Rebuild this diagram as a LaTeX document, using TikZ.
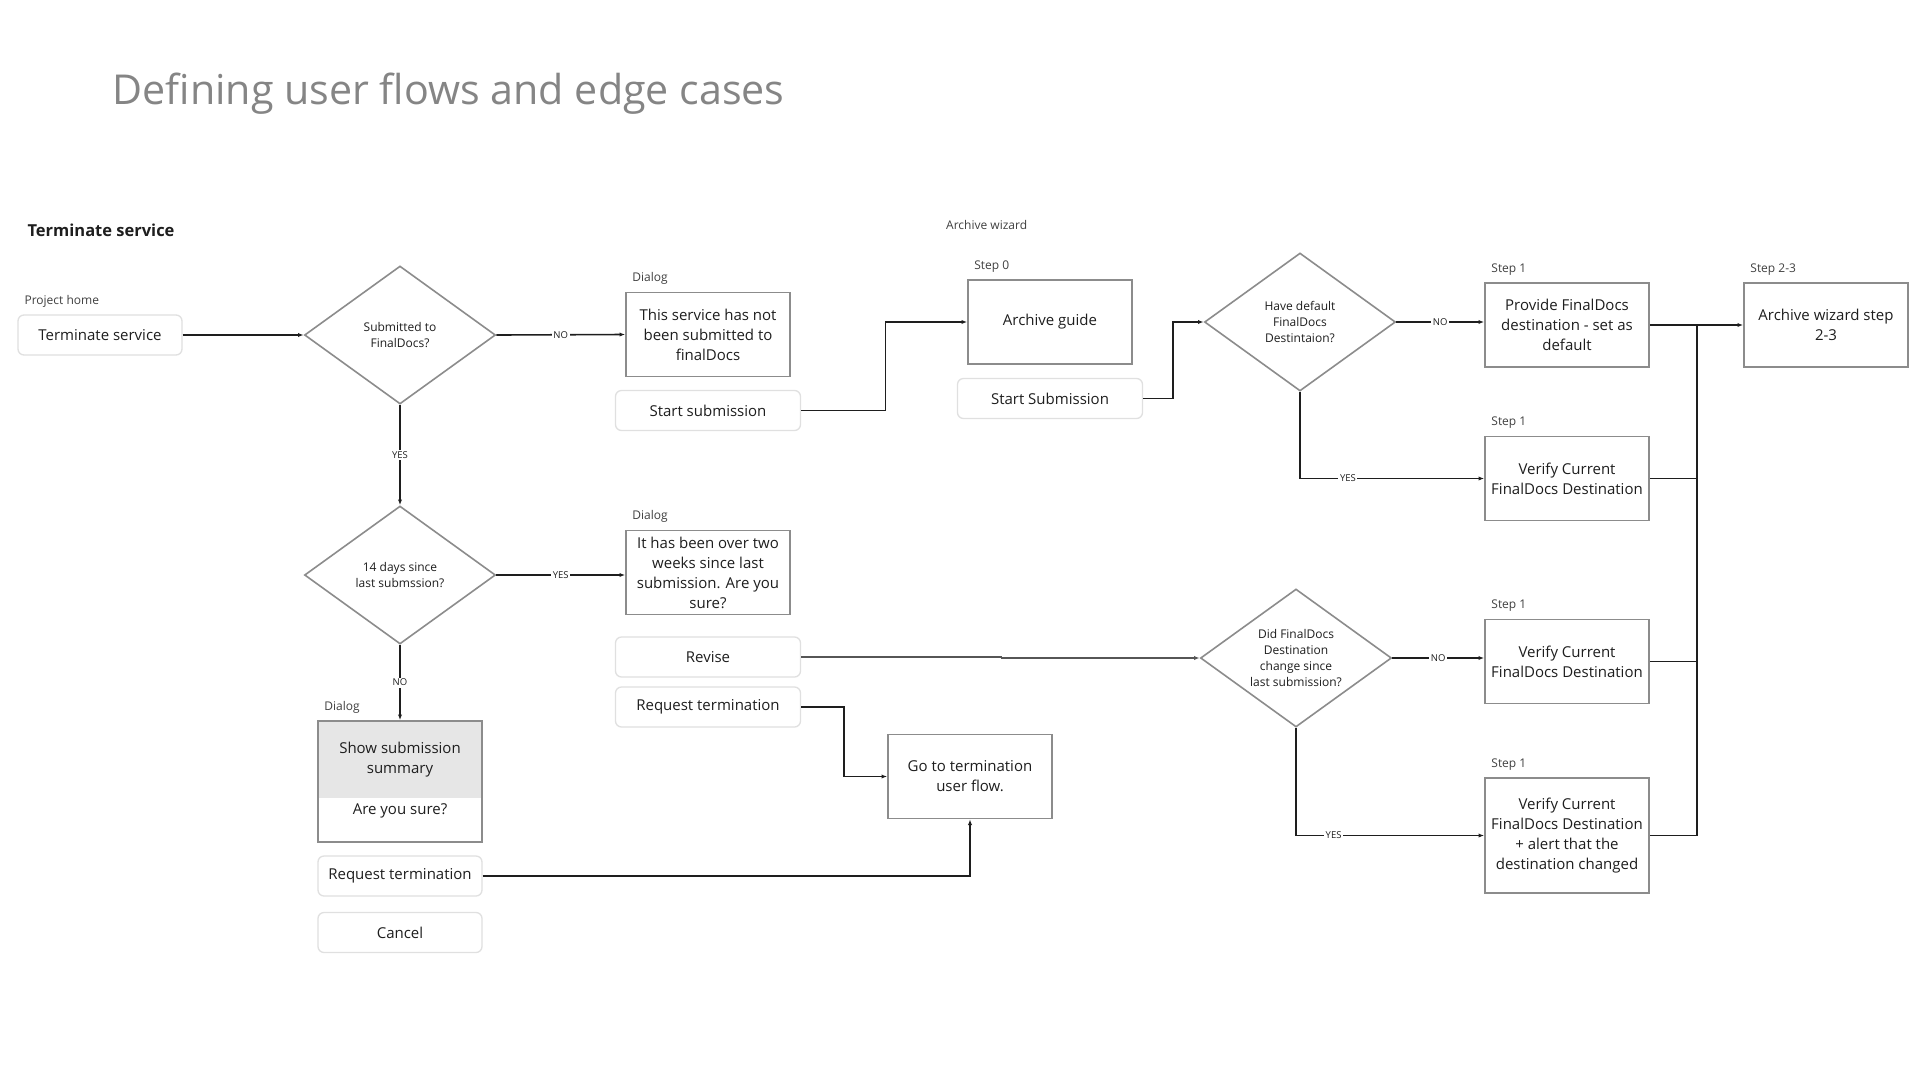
\documentclass[tikz,border=0pt]{standalone}
\usepackage{fontspec}
\setmainfont{Open Sans}
\usetikzlibrary{arrows.meta, positioning, shapes.geometric, calc}
\definecolor{edge}{HTML}{8C8C8C}
\definecolor{btnline}{HTML}{E0E0E0}
\definecolor{ink}{HTML}{1E1E1E}
\definecolor{dlgfill}{HTML}{E6E6E6}
\definecolor{ttlgray}{HTML}{858585}
\tikzset{
  blk/.style ={rectangle, draw=edge, line width=1.6pt, align=center, inner sep=4pt, text=ink, font=\fontsize{15}{20}\selectfont},
  btn/.style ={rectangle, rounded corners=6pt, draw=btnline, line width=1.3pt, align=center, text=ink, font=\fontsize{15}{20}\selectfont, minimum width=185pt, minimum height=40pt},
  dec/.style ={diamond, draw=edge, line width=1.6pt, aspect=1.38, align=center, inner sep=0pt, text=ink, font=\fontsize{12}{16}\selectfont, minimum width=191pt, minimum height=138pt},
  tag/.style ={inner sep=1pt, text=ink!85, font=\fontsize{12}{14}\selectfont},
  steplbl/.style={tag, anchor=south west, xshift=6pt, yshift=6pt},
  yn/.style  ={fill=white, inner sep=1.5pt, text=ink, font=\fontsize{9.5}{11}\selectfont},
  fl/.style  ={-{Latex[length=2mm]}, line width=1.6pt, draw=ink},
  flt/.style ={-{Latex[length=2mm]}, line width=1.1pt, draw=ink},
  ln/.style  ={line width=1.6pt, draw=ink},
}

\begin{document}
\begin{tikzpicture}[x=1pt, y=-1pt,
    box/.style={blk, minimum width=164pt, minimum height=84pt},
    txt/.style={align=center, inner sep=0pt, text=ink, font=\fontsize{15}{20}\selectfont}
]
\useasboundingbox (0,0) rectangle (1920,1080);
\fill[white] (0,0) rectangle (1920,1080);

% titles
\node[anchor=west, text=ttlgray, font=\fontsize{41.2}{46}\selectfont] (title) at (109,94) {Defining user flows and edge cases};
\node[anchor=west, text=ink, font=\fontsize{16.5}{20}\selectfont\bfseries] (hdr) at (24,230) {Terminate service};
\node[tag, anchor=west] (wizlbl) at (945,225) {Archive wizard};

% left column
\node[btn, minimum width=164pt, label={[steplbl]north west:Project home}] (term) at (100,335) {Terminate service};
\node[dec] (dsub) at (400,335) {Submitted to\\FinalDocs?};
\node[dec] (ddays) at (400,575) {14 days since\\last submssion?};
\node[box, minimum height=121pt, label={[steplbl]north west:Dialog},
      path picture={\fill[dlgfill] (path picture bounding box.north west) rectangle ($(path picture bounding box.north east)+(0,77)$);}] (summary) at (400,781.5) {};
\node[txt] (sumtxt) at ($(summary.north)+(0,39)$) {Show submission\\summary};
\node[txt] (sumask) at ($(summary.north)+(0,91)$) {Are you sure?};
\node[btn, minimum width=164pt] (reqbot) at (400,876) {Request termination};
\node[btn, minimum width=164pt] (cancel) at (400,932.5) {Cancel};

% dialogs
\node[box, label={[steplbl]north west:Dialog}] (dlgnot) at (708,334.5) {This service has not\\been submitted to\\finalDocs};
\node[btn] (startsub) at (708,410.5) {Start submission};
\node[box, label={[steplbl]north west:Dialog}] (dlgtwo) at (708,572.5) {It has been over two\\weeks since last\\submission. Are you\\sure?};
\node[btn] (revise) at (708,657) {Revise};
\node[btn] (reqtop) at (708,707) {Request termination};
\node[box] (goterm) at (970,776.5) {Go to termination\\user flow.};

% archive wizard
\node[box, label={[steplbl]north west:Step 0}] (guide) at (1050,322) {Archive guide};
\node[btn] (startarc) at (1050,398.5) {Start Submission};
\node[dec] (ddef) at (1300,322) {Have default\\FinalDocs\\Destintaion?};
\node[dec] (dchg) at (1296,658) {Did FinalDocs\\Destination\\change since\\last submission?};
\node[box, label={[steplbl]north west:Step 1}] (provide) at (1567,325) {Provide FinalDocs\\destination - set as\\default};
\node[box, label={[steplbl]north west:Step 1}] (ver1) at (1567,478.5) {Verify Current\\FinalDocs Destination};
\node[box, label={[steplbl]north west:Step 1}] (ver2) at (1567,661.5) {Verify Current\\FinalDocs Destination};
\node[box, minimum height=115pt, label={[steplbl]north west:Step 1}] (ver3) at (1567,835.5) {Verify Current\\FinalDocs Destination\\+ alert that the\\destination changed};
\node[box, label={[steplbl]north west:Step 2-3}] (wiz) at (1826,325) {Archive wizard step\\2-3};
\coordinate (bus) at (1697,325);

% connectors
\draw[fl] (term.east) -- (dsub.west);
\draw[fl] (dsub.east) -- node[yn] {NO} (dlgnot.west);
\draw[fl] (dsub.south) -- node[yn] {YES} (ddays.north);
\draw[fl] (ddays.east) -- node[yn] {YES} (ddays.east -| dlgtwo.west);
\draw[fl] (ddays.south) -- node[yn] {NO} (summary.north);
\draw[flt] (startsub.east) -- ++(84,0) |- (guide.west);
\draw[fl] (startarc.east) -- ++(30,0) |- (ddef.west);
\draw[fl] (ddef.east) -- node[yn] {NO} (ddef.east -| provide.west);
\draw[flt] (ddef.south) |- node[yn, pos=0.63] {YES} (ver1.west);
\draw[flt, draw=ink!75] (revise.east) -- ++(200,0) |- (dchg.west);
\draw[fl] (dchg.east) -- node[yn] {NO} (dchg.east -| ver2.west);
\draw[flt] (dchg.south) |- node[yn, pos=0.6] {YES} (ver3.west);
\draw[fl] (reqtop.east) -- ++(43,0) |- (goterm.west);
\draw[fl] (reqbot.east) -| (goterm.south);
\draw[fl] (provide.east) -- (wiz.west);
\draw[ln] (bus) |- (ver3.east);
\draw[ln] (ver1.east) -- (ver1.east -| bus);
\draw[ln] (ver2.east) -- (ver2.east -| bus);

\end{tikzpicture}
\end{document}
